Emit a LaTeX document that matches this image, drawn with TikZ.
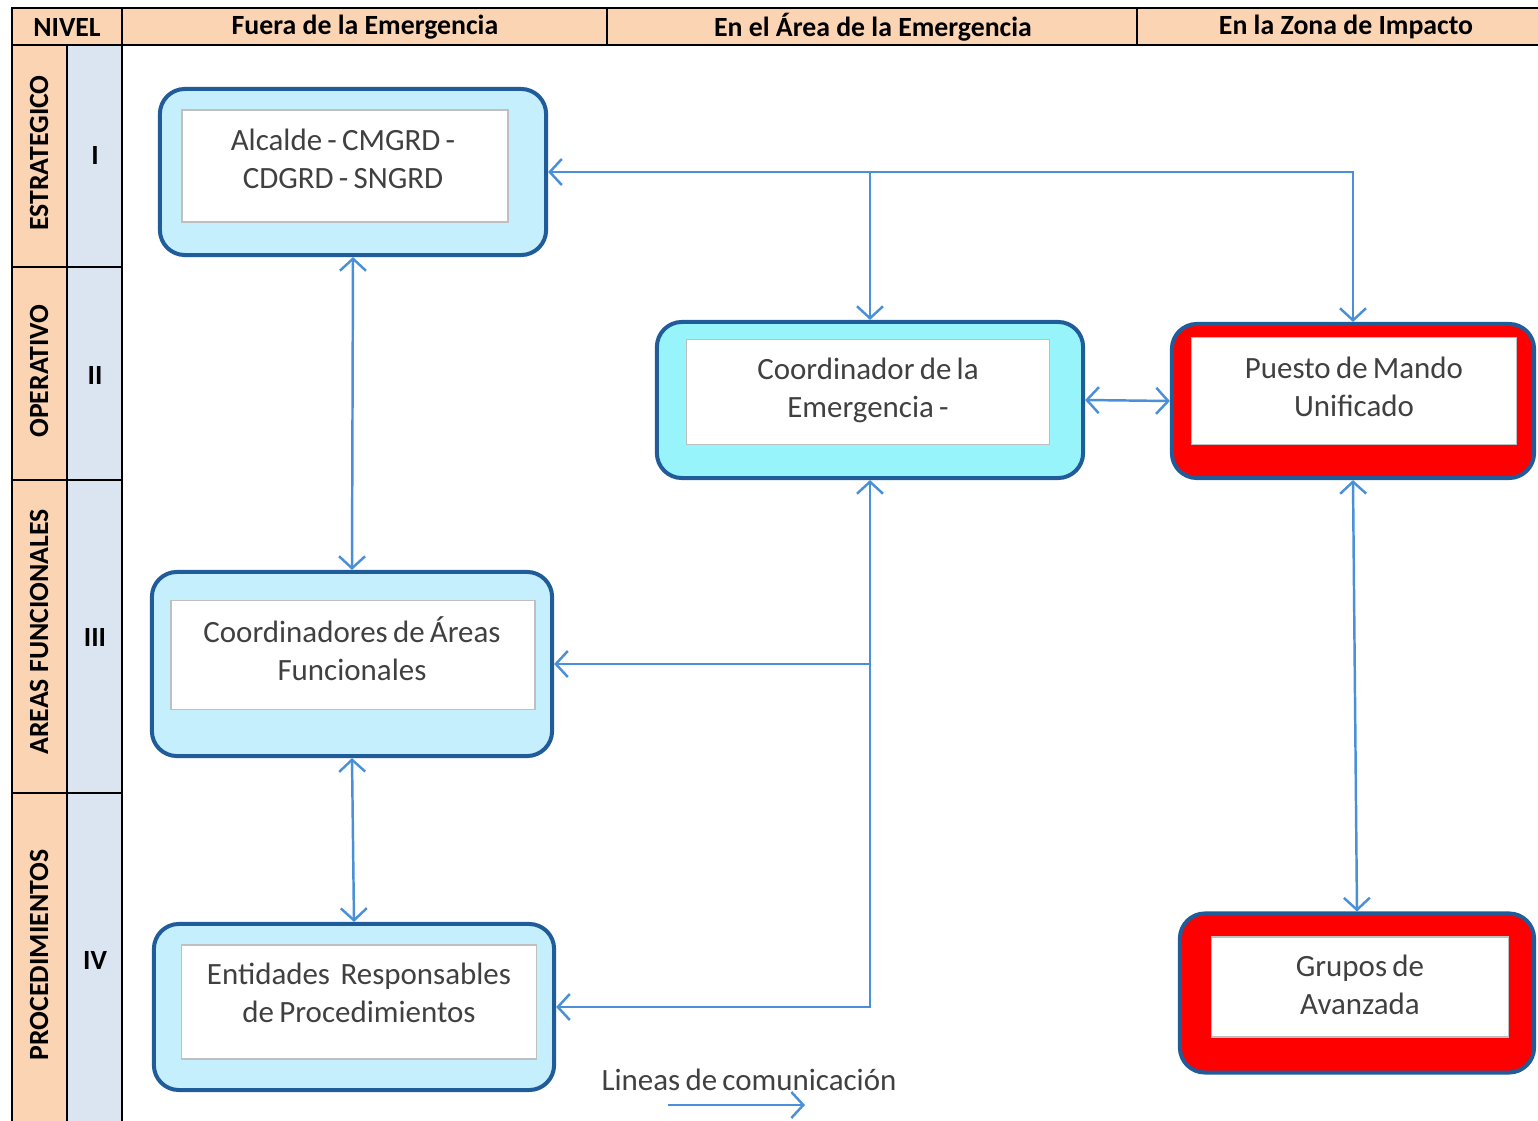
\documentclass[tikz,border=0pt]{standalone}
\usepackage{fontspec}
\setmainfont{Carlito}
\usetikzlibrary{arrows.meta}
\definecolor{hdr}{HTML}{FBD4B4}
\definecolor{lvl}{HTML}{DBE5F1}
\definecolor{frame}{HTML}{1F5C99}
\definecolor{paleblue}{HTML}{C6EFFD}
\definecolor{cyanbox}{HTML}{97F4FA}
\definecolor{linkblue}{HTML}{4A90D9}
\definecolor{txt}{HTML}{404040}
\newcommand{\tightsp}{\spaceskip=0.17em plus 0.05em\relax}

\begin{document}
\begin{tikzpicture}[x=0.01cm,y=-0.01cm,
		>={Straight Barb[length=0.12cm,width=0.26cm]},
		outerbox/.style={draw=frame,line width=0.04cm,rounded corners=0.25cm,inner sep=0pt},
		innerbox/.style={draw=black!25,fill=white,line width=0.5pt,inner sep=0pt},
		boxtext/.style={align=center,text=txt,font=\fontsize{8.8}{10.8}\selectfont\tightsp},
		headtext/.style={font=\bfseries\fontsize{7.9}{9}\selectfont},
		grid/.style={line width=0.02cm},
		link/.style={draw=linkblue,line width=0.7pt}]
	\useasboundingbox (0,0) rectangle (1538,1121);
	% tabla de niveles
	\fill[hdr] (12,8) rectangle (1538,45);
	\fill[hdr] (12,45) rectangle (67,1121);
	\fill[lvl] (67,45) rectangle (122,1121);
	\draw[grid] (12,1121) -- (12,8) -- (1538,8);
	\draw[grid] (12,45) -- (1538,45);
	\draw[grid] (67,45) -- (67,1121);
	\draw[grid] (122,8) -- (122,1121);
	\draw[grid] (607,8) -- (607,45);
	\draw[grid] (1137,8) -- (1137,45);
	\foreach \y in {267,480,793}
		\draw[grid] (12,\y) -- (122,\y);
	%
	\node[headtext] (hNivel) at (67,27) {NIVEL};
	\node[headtext] (hFuera) at (365,27) {Fuera de la Emergencia};
	\node[headtext] (hArea) at (873,27) {En el Área de la Emergencia};
	\node[headtext] (hZona) at (1346,27) {En la Zona de Impacto};
	\node[headtext,rotate=90] (nEst) at (39,153) {ESTRATEGICO};
	\node[headtext,rotate=90] (nOpe) at (39,371) {OPERATIVO};
	\node[headtext,rotate=90] (nAre) at (39,632) {AREAS FUNCIONALES};
	\node[headtext,rotate=90] (nPro) at (39,955) {PROCEDIMIENTOS};
	\node[headtext] (rI) at (95,155) {I};
	\node[headtext] (rII) at (95,375) {II};
	\node[headtext] (rIII) at (95,637) {III};
	\node[headtext] (rIV) at (95,960) {IV};
	%
	% cajas
	\node[outerbox,fill=paleblue,minimum width=3.86cm,minimum height=1.66cm] (alcalde) at (353,172) {};
	\node[innerbox,minimum width=3.26cm,minimum height=1.12cm] (alcaldeIn) at (345,166) {};
	\node[boxtext] (alcaldeTx) at (343,159) {Alcalde - CMGRD -\\CDGRD - SNGRD};
	%
	\node[outerbox,fill=cyanbox,minimum width=4.26cm,minimum height=1.56cm] (coord) at (870,400) {};
	\node[innerbox,minimum width=3.63cm,minimum height=1.05cm] (coordIn) at (868,392) {};
	\node[boxtext] (coordTx) at (868,390) {Coordinador de la\\Emergencia -};
	%
	\node[outerbox,fill=red,minimum width=3.62cm,minimum height=1.54cm] (puesto) at (1353,401) {};
	\node[innerbox,minimum width=3.25cm,minimum height=1.07cm] (puestoIn) at (1354,391) {};
	\node[boxtext] (puestoTx) at (1354,387) {Puesto de Mando\\Unificado};
	%
	\node[outerbox,fill=paleblue,minimum width=4.00cm,minimum height=1.84cm] (areas) at (352,664) {};
	\node[innerbox,minimum width=3.64cm,minimum height=1.09cm] (areasIn) at (353,655) {};
	\node[boxtext] (areasTx) at (352,649) {Coordinadores de Áreas\\Funcionales};
	%
	\node[outerbox,fill=paleblue,minimum width=4.00cm,minimum height=1.66cm] (entidades) at (354,1007) {};
	\node[innerbox,minimum width=3.55cm,minimum height=1.14cm] (entidadesIn) at (359,1002) {};
	\node[boxtext] (entidadesTx) at (359,993) {Entidades~ Responsables\\de Procedimientos};
	%
	\node[outerbox,fill=red,minimum width=3.54cm,minimum height=1.59cm] (grupos) at (1357,993) {};
	\node[innerbox,minimum width=2.97cm,minimum height=1.00cm] (gruposIn) at (1360,987) {};
	\node[boxtext] (gruposTx) at (1360,985) {Grupos de\\Avanzada};
	%
	% lineas de comunicacion
	\draw[link,<->] (alcalde.east) -| (puesto.north);
	\draw[link,->] (coord.north |- alcalde.east) -- (coord.north);
	\draw[link,<->] (alcalde.south) -- (areas.north);
	\draw[link,<->] (areas.south) -- (entidades.north);
	\draw[link,<->] (coord.east) -- (puesto.west);
	\draw[link,<->] (puesto.south) -- (grupos.north);
	\draw[link,<->] (coord.south) |- (entidades.east);
	\draw[link,->] (coord.south |- areas.east) -- (areas.east);
	%
	\node[boxtext] (legTx) at (749,1080) {Lineas de comunicación};
	\coordinate (legA) at (668,1105);
	\coordinate (legB) at (805,1105);
	\draw[link,->] (legA) -- (legB);
\end{tikzpicture}
\end{document}
